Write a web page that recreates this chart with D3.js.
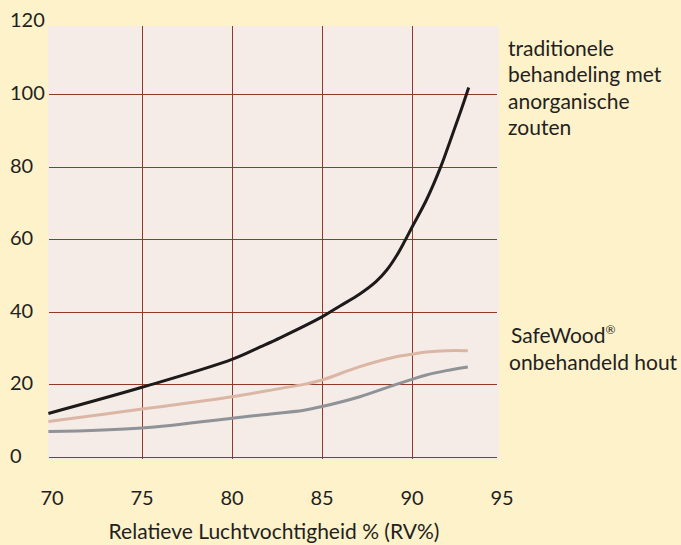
<!DOCTYPE html>
<html>
<head>
<meta charset="utf-8">
<script src="https://cdn.jsdelivr.net/npm/d3@7"></script>
<style>
  html, body { margin: 0; padding: 0; background: #FEF2CB; }
  svg { display: block; }
  text { font-family: Lato, "Open Sans", sans-serif; fill: #231f20; }
</style>
</head>
<body>
<svg id="chart" width="681" height="545"></svg>
<script>
// ---- data ----
const xTicks = [70, 75, 80, 85, 90, 95];
const yTicks = [0, 20, 40, 60, 80, 100, 120];
const xGrid = [75, 80, 85, 90];
const yGrid = [0, 20, 40, 60, 80, 100];

const traditionalRH = [69.8, 75, 80, 81.6, 82.7, 85, 86, 87.1, 88, 88.6, 89.15, 89.6, 90, 90.8, 91.6, 92.1, 92.7, 93.15];
const traditionalVal = [12.0, 19.2, 26.9, 30.4, 32.9, 38.6, 41.6, 44.9, 48.3, 51.5, 55.5, 59.5, 63.3, 70.8, 80.0, 86.8, 95.2, 101.8];

const untreatedRH = [69.8, 75, 80, 82.7, 84, 85, 87.1, 89, 90, 90.8, 91.9, 93.1];
const untreatedVal = [9.8, 13.2, 16.6, 18.9, 20.0, 21.2, 24.9, 27.5, 28.3, 28.9, 29.3, 29.3];

const safewoodRH = [69.8, 75, 80, 81.6, 84, 85, 87.1, 89, 90, 90.8, 91.9, 93.1];
const safewoodVal = [7.0, 8.0, 10.7, 11.6, 12.9, 13.9, 16.6, 19.8, 21.4, 22.6, 23.8, 24.8];

const xLabel = "Relatieve Luchtvochtigheid % (RV%)";
const labelTraditional = ["traditionele", "behandeling met", "anorganische", "zouten"];
const labelSafe = ["SafeWood", "onbehandeld hout"];

// ---- scales ----
const x = d3.scaleLinear().domain([70, 95]).range([52, 502]);
const y = d3.scaleLinear().domain([0, 100]).range([457, 94]);

const svg = d3.select("#chart");
svg.append("rect").attr("width", 681).attr("height", 545).attr("fill", "#FEF2CB");

// plot area
const plotLeft = x(69.78), plotRight = 499, plotTop = 26, plotBottom = 460;
svg.append("rect")
  .attr("x", plotLeft).attr("y", plotTop)
  .attr("width", plotRight - plotLeft).attr("height", plotBottom - plotTop)
  .attr("fill", "#F5ECE8");

const gridColor = "#8E3A26";
svg.append("g").selectAll("line").data(yGrid).join("line")
  .attr("x1", plotLeft + 1).attr("x2", plotRight - 2)
  .attr("y1", d => Math.round(y(d)) + 0.5).attr("y2", d => Math.round(y(d)) + 0.5)
  .attr("stroke", gridColor).attr("stroke-width", 1);
svg.append("g").selectAll("line").data(xGrid).join("line")
  .attr("y1", plotTop).attr("y2", plotBottom - 1)
  .attr("x1", d => Math.round(x(d)) + 0.5).attr("x2", d => Math.round(x(d)) + 0.5)
  .attr("stroke", gridColor).attr("stroke-width", 1);

// tick labels
svg.append("g").selectAll("text").data(yTicks).join("text")
  .attr("x", 10).attr("y", d => y(d) + 6)
  .attr("font-size", 20)
  .text(d => d);
svg.append("g").selectAll("text").data(xTicks).join("text")
  .attr("x", d => x(d)).attr("y", 505)
  .attr("text-anchor", "middle")
  .attr("font-size", 20)
  .text(d => d);

svg.append("text")
  .attr("x", 274).attr("y", 539)
  .attr("text-anchor", "middle")
  .attr("font-size", 21)
  .text(xLabel);

// lines
const line = d3.line().x(d => x(d[0])).y(d => y(d[1])).curve(d3.curveCatmullRom.alpha(0.5));
const series = [
  {rh: safewoodRH, v: safewoodVal, color: "#8F9297"},
  {rh: untreatedRH, v: untreatedVal, color: "#DCB6A4"},
  {rh: traditionalRH, v: traditionalVal, color: "#1E1A1A"}
];
series.forEach(s => {
  svg.append("path")
    .datum(d3.zip(s.rh, s.v))
    .attr("d", line)
    .attr("fill", "none")
    .attr("stroke", s.color)
    .attr("stroke-width", 3);
});

// annotations
const t1 = svg.append("text").attr("font-size", 21);
labelTraditional.forEach((s, i) => {
  t1.append("tspan").attr("x", 508).attr("y", 56 + i * 26.3).text(s);
});
const t2 = svg.append("text").attr("font-size", 21);
const l1 = t2.append("tspan").attr("x", 511).attr("y", 343);
l1.append("tspan").text(labelSafe[0]);
l1.append("tspan").attr("font-size", 12).attr("dy", -9).text("®");
t2.append("tspan").attr("x", 509).attr("y", 370).text(labelSafe[1]);
</script>
</body>
</html>
